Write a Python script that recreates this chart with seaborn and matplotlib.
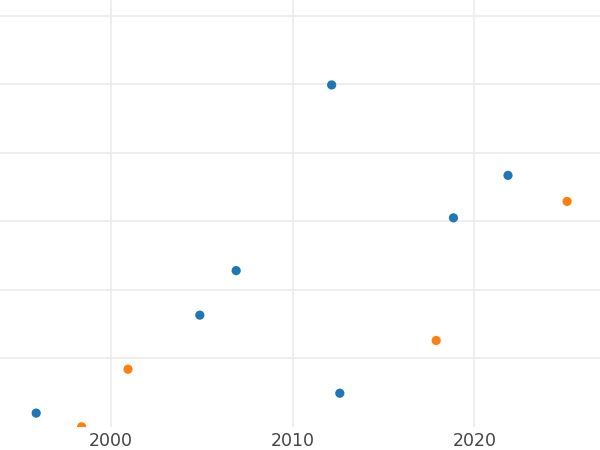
import matplotlib
matplotlib.use("Agg")
import matplotlib.pyplot as plt
import seaborn as sns
import pandas as pd

# Data
blue_years = [1995.9, 2004.9, 2006.9, 2012.15, 2012.6, 2018.85, 2021.85]
blue_values = [2.0, 16.3, 22.8, 49.9, 4.9, 30.5, 36.7]
orange_years = [1998.4, 2000.95, 2017.9, 2025.1]
orange_values = [0.0, 8.4, 12.6, 32.9]
series_names = ["A", "B"]
x_ticks = [2000, 2010, 2020]
y_ticks = [10, 20, 30, 40, 50, 60]

df = pd.DataFrame({
    "year": blue_years + orange_years,
    "value": blue_values + orange_values,
    "series": [series_names[0]] * len(blue_years) + [series_names[1]] * len(orange_years),
})

sns.set_theme(style="white")
fig = plt.figure(figsize=(6, 4.5), dpi=100)
ax = fig.add_axes([0, 23.2 / 450, 1, 426.8 / 450])

sns.scatterplot(data=df, x="year", y="value", hue="series",
                palette=["#1f77b4", "#ff7f0e"], s=44, linewidth=0,
                legend=False, ax=ax, zorder=3)

ax.set_xlim(1993.91, 2026.91)
ax.set_ylim(0, 62.3)
ax.set_xticks(x_ticks)
ax.set_xticklabels([str(t) for t in x_ticks])
ax.set_yticks(y_ticks)
ax.set_yticklabels([])
ax.grid(True, color="#ebebeb", linewidth=1.2)
ax.set_axisbelow(True)
for sp in ax.spines.values():
    sp.set_visible(False)
ax.tick_params(axis="x", length=0, pad=4, labelsize=12.5, labelcolor="#444444")
ax.tick_params(axis="y", length=0)
ax.set_xlabel("")
ax.set_ylabel("")

fig.savefig("out.png", dpi=100)
